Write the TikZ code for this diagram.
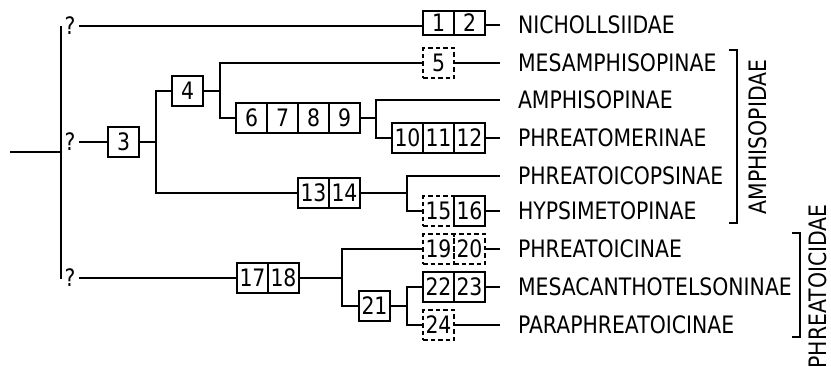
\documentclass[tikz,border=0pt]{standalone}
\usepackage{fontspec}
\setmainfont{DejaVu Sans}[FakeStretch=0.85]
\begin{document}
\begin{tikzpicture}[x=1pt,y=-1pt,line width=2pt,
  every node/.style={font=\fontsize{24}{26}\selectfont},
  cell/.style={draw,minimum width=31pt,minimum height=30pt,inner sep=0pt},
  dcell/.style={cell,dash pattern=on 4.5pt off 3pt},
  lbl/.style={anchor=west,inner sep=0pt},
  qm/.style={inner sep=0pt},
  grp/.style={rotate=90,inner sep=0pt},
  brk/.style={line width=2pt}]
\useasboundingbox (0,0) rectangle (831,367);

% taxa labels
\node[lbl] (t1) at (517,25) {NICHOLLSIIDAE};
\node[lbl] (t2) at (517,63) {MESAMPHISOPINAE};
\node[lbl] (t3) at (517,100) {AMPHISOPINAE};
\node[lbl] (t4) at (517,138) {PHREATOMERINAE};
\node[lbl] (t5) at (517,176) {PHREATOICOPSINAE};
\node[lbl] (t6) at (517,211) {HYPSIMETOPINAE};
\node[lbl] (t7) at (517,249) {PHREATOICINAE};
\node[lbl] (t8) at (517,287) {MESACANTHOTELSONINAE};
\node[lbl] (t9) at (517,325) {PARAPHREATOICINAE};
\foreach \i in {1,...,9}{\path ([xshift=-17pt]t\i.west) coordinate (e\i);}

% boxes
\node[cell,minimum height=24pt] (c1) at (438.5,23) {1};
\node[cell,minimum height=24pt] (c2) at (469.5,23) {2};
\node[cell] (c3) at (123.5,142) {3};
\node[cell] (c4) at (187.5,91) {4};
\node[dcell] (c5) at (438.5,63) {5};
\node[cell] (c6) at (251.5,118) {6};
\node[cell] (c7) at (282.5,118) {7};
\node[cell] (c8) at (313.5,118) {8};
\node[cell] (c9) at (344.5,118) {9};
\node[cell] (c10) at (407.5,138) {10};
\node[cell] (c11) at (438.5,138) {11};
\node[cell] (c12) at (469.5,138) {12};
\node[cell] (c13) at (313.5,193) {13};
\node[cell] (c14) at (344.5,193) {14};
\node[dcell] (c15) at (438.5,211) {15};
\node[cell] (c16) at (469.5,211) {16};
\node[cell] (c17) at (252.5,278) {17};
\node[cell] (c18) at (283.5,278) {18};
\node[dcell] (c19) at (438.5,249) {19};
\node[dcell] (c20) at (469.5,249) {20};
\node[cell] (c21) at (374.5,306) {21};
\node[cell] (c22) at (438.5,287) {22};
\node[cell] (c23) at (469.5,287) {23};
\node[dcell] (c24) at (438.5,325) {24};

% root and question marks
\coordinate (r0) at (10,152);
\coordinate (vt) at (61,26);
\coordinate (vb) at (61,279);
\draw (r0) -- (r0 -| vt);
\draw (vt) -- (vb);
\node[qm] (q1) at (70,26) {?};
\node[qm] (q2) at (70,142) {?};
\node[qm] (q3) at (70,278) {?};
\draw ([xshift=3pt]q1.east) -- (q1.east -| c1.west);
\draw ([xshift=3pt]q2.east) -- (c3.west);
\draw ([xshift=3pt]q3.east) -- (c17.west);
\draw (c2.east |- t1.west) -- (e1);

% junctions
\coordinate (j1) at (156,142);
\coordinate (j2) at (220,91);
\coordinate (j3) at (376,118);
\coordinate (j4) at (407,193);
\coordinate (j5) at (342,278);
\coordinate (j6) at (407,306);

\draw (c3.east) -- (j1);
\draw (c4.west) -- (c4.west -| j1) -- (c13.west -| j1) -- (c13.west);

\draw (c4.east) -- (j2);
\draw (c5.west) -- (c5.west -| j2) -- (c6.west -| j2) -- (c6.west);
\draw (c5.east) -- (e2);

\draw (c9.east) -- (j3);
\draw (e3) -- (e3 -| j3) -- (c10.west -| j3) -- (c10.west);
\draw (c12.east) -- (c12.east -| e4);

\draw (c14.east) -- (j4);
\draw (e5) -- (e5 -| j4) -- (c15.west -| j4) -- (c15.west);
\draw (c16.east) -- (c16.east -| e6);

\draw (c18.east) -- (j5);
\draw (c19.west) -- (c19.west -| j5) -- (c21.west -| j5) -- (c21.west);
\draw (c20.east) -- (c20.east -| e7);

\draw (c21.east) -- (j6);
\draw (c22.west) -- (c22.west -| j6) -- (c24.west -| j6) -- (c24.west);
\draw (c23.east) -- (c23.east -| e8);
\draw (c24.east) -- (c24.east -| e9);

% brackets and group labels
\draw[brk] (729,50) -- (737,50) -- (737,223) -- (729,223);
\node[grp] (g1) at (758,137) {AMPHISOPIDAE};
\draw[brk] (792,233) -- (800,233) -- (800,337) -- (792,337);
\node[grp] (g2) at (818,286.5) {PHREATOICIDAE};
\end{tikzpicture}
\end{document}
